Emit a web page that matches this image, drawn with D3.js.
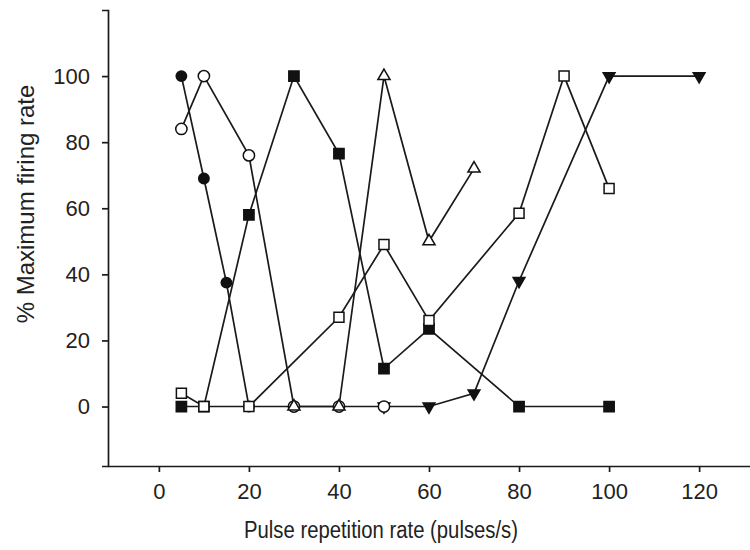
<!DOCTYPE html>
<html>
<head>
<meta charset="utf-8">
<script src="https://cdn.jsdelivr.net/npm/d3@7"></script>
<style>
  body { margin: 0; background: #fff; }
  text { font-family: "Liberation Sans", Arial, sans-serif; fill: #222; }
</style>
</head>
<body>
<svg width="750" height="550"></svg>
<script>
// each series is [rate, % max firing]
const filledCircles   = [[5, 100], [10, 69], [15, 37.5], [20, 0], [30, 0]];
const filledTriangles = [[50, 0], [60, 0], [70, 4], [80, 38], [100, 100], [120, 100]];
const openCircles     = [[5, 84], [10, 100], [20, 76], [30, 0], [40, 0], [50, 0]];
const openTriangles   = [[30, 0], [40, 0], [50, 100], [60, 50], [70, 72]];
const filledSquares   = [[5, 0], [10, 0], [20, 58], [30, 100], [40, 76.5], [50, 11.5], [60, 23.5], [80, 0], [100, 0]];
const openSquares     = [[5, 4], [10, 0], [20, 0], [40, 27], [50, 49], [60, 26], [80, 58.5], [90, 100], [100, 66]];

const xTicks = [0, 20, 40, 60, 80, 100, 120];
const yTicks = [0, 20, 40, 60, 80, 100];

// drawing order matters where markers overlap
const series = [
  {data: filledCircles,   shape: d3.symbolCircle,   size: 85,  fill: "#111", rot: 0},
  {data: filledTriangles, shape: d3.symbolTriangle, size: 60,  fill: "#111", rot: 180},
  {data: openCircles,     shape: d3.symbolCircle,   size: 100, fill: "#fff", rot: 0},
  {data: openTriangles,   shape: d3.symbolTriangle, size: 64,  fill: "#fff", rot: 0},
  {data: filledSquares,   shape: d3.symbolSquare,   size: 105, fill: "#111", rot: 0},
  {data: openSquares,     shape: d3.symbolSquare,   size: 100, fill: "#fff", rot: 0}
];

const svg = d3.select("svg"),
    plotLeft = 108, plotBottom = 466, plotTop = 10, plotRight = 750;

const x = d3.scaleLinear().domain([-11.3, 131.3]).range([plotLeft, plotRight]);
const y = d3.scaleLinear().domain([-18, 120]).range([plotBottom, plotTop]);

// axes
const xAxis = svg.append("g")
    .attr("transform", "translate(0," + plotBottom + ")")
    .call(d3.axisBottom(x).tickValues(xTicks).tickSize(6).tickSizeOuter(0).tickPadding(11));
const yAxis = svg.append("g")
    .attr("transform", "translate(" + plotLeft + ",0)")
    .call(d3.axisLeft(y).tickValues(yTicks).tickSize(6).tickSizeOuter(6).tickPadding(12));

[xAxis, yAxis].forEach(function(a) {
  a.selectAll("path, line").attr("stroke", "#1a1a1a").attr("stroke-width", 1.7);
  a.selectAll("text").style("font-size", "22px").attr("fill", "#222");
  a.attr("font-family", null);
});

// lines first, markers on top
const line = d3.line().x(function(d) { return x(d[0]); }).y(function(d) { return y(d[1]); });

svg.append("g").selectAll("path")
  .data(series)
  .enter().append("path")
    .attr("d", function(s) { return line(s.data); })
    .attr("fill", "none")
    .attr("stroke", "#1a1a1a")
    .attr("stroke-width", 1.7);

series.forEach(function(s) {
  svg.append("g").selectAll("path")
    .data(s.data)
    .enter().append("path")
      .attr("d", d3.symbol().type(s.shape).size(s.size))
      .attr("transform", function(d) {
        return "translate(" + x(d[0]) + "," + y(d[1]) + ") rotate(" + s.rot + ")";
      })
      .attr("fill", s.fill)
      .attr("stroke", "#111")
      .attr("stroke-width", 1.5);
});

// axis titles
svg.append("text")
    .attr("x", 381).attr("y", 538)
    .attr("text-anchor", "middle")
    .attr("textLength", 274)
    .attr("lengthAdjust", "spacingAndGlyphs")
    .style("font-size", "23px")
    .text("Pulse repetition rate (pulses/s)");

svg.append("text")
    .attr("transform", "translate(34,204) rotate(-90)")
    .attr("text-anchor", "middle")
    .style("font-size", "24px")
    .text("% Maximum firing rate");
</script>
</body>
</html>
